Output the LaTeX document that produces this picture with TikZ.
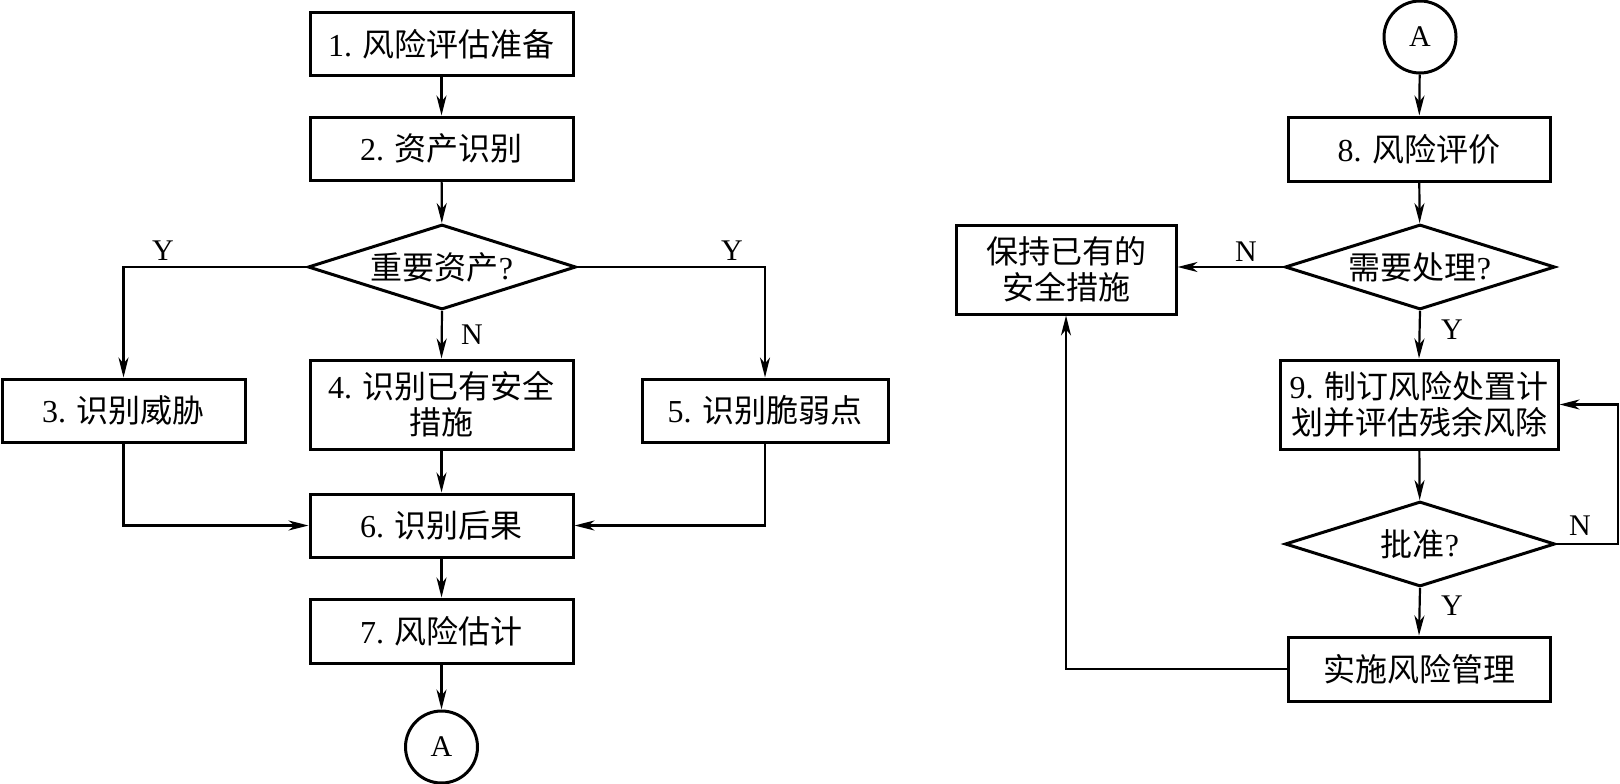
\documentclass[tikz,border=0pt]{standalone}
\usepackage{fontspec}
\setmainfont{Liberation Serif}
\newfontfamily\cjk{Noto Sans CJK SC}
\usetikzlibrary{shapes.geometric,arrows.meta}
\newcommand\zh[1]{{\cjk #1}}
\tikzset{
  box/.style={draw, line width=3pt, rectangle, inner sep=0pt, align=center,
    font=\fontsize{32}{36}\selectfont},
  dec/.style={draw, line width=3pt, diamond, inner sep=0pt, aspect=3.15,
    minimum width=#1, minimum height=85pt, font=\fontsize{32}{36}\selectfont},
  conn/.style={draw, line width=3pt, circle, inner sep=0pt, minimum size=72pt,
    font=\fontsize{30}{36}\selectfont},
  arr/.style={line width=2.2pt, -{Stealth[length=20pt,width=10pt,inset=6pt]}},
  lbl/.style={font=\fontsize{30}{36}\selectfont, inner sep=0pt}
}
\begin{document}
\begin{tikzpicture}[x=1pt,y=-1pt]
\useasboundingbox (0,0) rectangle (1620,784);
% left column
\node[box, minimum width=263pt, minimum height=63pt] (b1) at (441.5,44.5) {1. \zh{风险评估准备}};
\node[box, minimum width=263pt, minimum height=63pt] (b2) at (441.5,148.5) {2. \zh{资产识别}};
\node[dec=268pt] (d1) at (442,267) {\zh{重要资产}?};
\node[box, minimum width=243pt, minimum height=63pt] (b3) at (123.5,410.5) {3. \zh{识别威胁}};
\node[box, minimum width=263pt, minimum height=89pt] (b4) at (441.5,404.5) {4. \zh{识别已有安全}\\\zh{措施}};
\node[box, minimum width=246pt, minimum height=63pt] (b5) at (765,410.5) {5. \zh{识别脆弱点}};
\node[box, minimum width=263pt, minimum height=63pt] (b6) at (441.5,525.5) {6. \zh{识别后果}};
\node[box, minimum width=263pt, minimum height=64pt] (b7) at (441.5,631) {7. \zh{风险估计}};
\node[conn] (a1) at (441.5,747) {A};
% right column
\node[conn] (a2) at (1420,37) {A};
\node[box, minimum width=262pt, minimum height=64pt] (b8) at (1419,149) {8. \zh{风险评价}};
\node[dec=270pt] (d2) at (1420,267) {\zh{需要处理}?};
\node[box, minimum width=220pt, minimum height=89pt] (keep) at (1066,269.5) {\zh{保持已有的}\\\zh{安全措施}};
\node[box, minimum width=278pt, minimum height=89pt] (b9) at (1419,404.5) {9. \zh{制订风险处置计}\\\zh{划并评估残余风除}};
\node[dec=270pt] (d3) at (1420,544) {\zh{批准}?};
\node[box, minimum width=262pt, minimum height=64pt] (impl) at (1419,669) {\zh{实施风险管理}};
\coordinate (lx) at (1618,544);
% left connectors
\draw[arr] (b1) -- (b2);
\draw[arr] (b2) -- (d1);
\draw[arr] (d1.west) -| (b3.north);
\draw[arr] (d1.east) -| (b5.north);
\draw[arr] (d1.south) -- (b4.north);
\draw[arr] (b3.south) |- (b6.west);
\draw[arr] (b5.south) |- (b6.east);
\draw[arr] (b4) -- (b6);
\draw[arr] (b6) -- (b7);
\draw[arr] (b7) -- (a1);
\node[lbl] (ly1) at (163,251) {Y};
\node[lbl] (ly2) at (732,251) {Y};
\node[lbl] (ln1) at (472,335) {N};
% right connectors
\draw[arr] (a2) -- (b8);
\draw[arr] (b8) -- (d2);
\draw[arr] (d2.west) -- (d2.west -| keep.east);
\draw[arr] (d2.south) -- (b9.north);
\draw[arr] (b9) -- (d3);
\draw[arr] (d3.south) -- (impl.north);
\draw[arr] (d3.east) -- (lx) |- (b9.east);
\draw[arr] (impl.west) -| (keep.south);
\node[lbl] (ln2) at (1246,252) {N};
\node[lbl] (ly3) at (1452,330) {Y};
\node[lbl] (ln3) at (1580,526) {N};
\node[lbl] (ly4) at (1452,606) {Y};
\end{tikzpicture}
\end{document}
